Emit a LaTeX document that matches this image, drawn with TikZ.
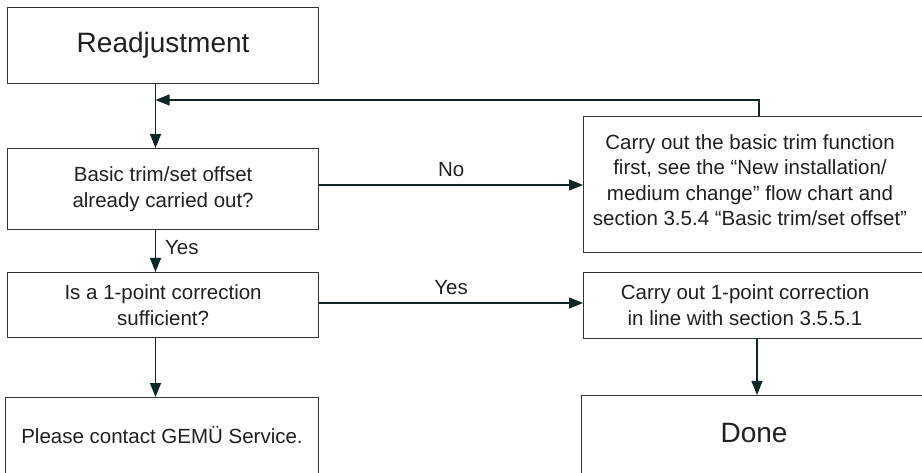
\documentclass[tikz,border=0pt]{standalone}
\usepackage{fontspec}
\setmainfont{Liberation Sans}
\usetikzlibrary{arrows.meta}
\definecolor{boxline}{RGB}{50,50,50}
\definecolor{arrline}{RGB}{16,38,38}
\definecolor{txt}{RGB}{35,31,32}
\tikzset{
  box/.style={draw=boxline, line width=1.2pt, rectangle, anchor=north west, inner sep=0pt, text=txt, align=center},
  small/.style={font=\fontsize{20.5}{25.5}\selectfont, text=txt, align=center},
  big/.style={font=\fontsize{28}{32}\selectfont, text=txt},
  arr/.style={draw=arrline, line width=1.2pt, -{Triangle[length=14pt,width=11pt]}},
  lbl/.style={font=\fontsize{20.5}{24}\selectfont, text=txt, inner sep=0pt}
}
\begin{document}
\begin{tikzpicture}[x=1pt,y=-1pt]
\useasboundingbox (0,0) rectangle (922,473);
\clip (0,0) rectangle (922,473);
% left column
\node[box, minimum width=311pt, minimum height=76pt, big] (A) at (7,7) {Readjustment};
\node[box, minimum width=311pt, minimum height=81pt, small] (B) at (7,148) {Basic trim/set offset\\already carried out?};
\node[box, minimum width=311pt, minimum height=65pt, small] (C) at (7,272) {Is a 1-point correction\\sufficient?};
\node[box, minimum width=313pt, minimum height=120pt] (D) at (5,397) {};
\node[small] (Dt) at (162,435) {Please contact GEMÜ Service.};
% right column
\node[box, minimum width=360pt, minimum height=136pt] (E) at (583,116) {};
\node[small] (Et) at (750,180) {Carry out the basic trim function\\first, see the “New installation/\\medium change” flow chart and\\section 3.5.4 “Basic trim/set offset”};
\node[box, minimum width=360pt, minimum height=66pt] (F) at (583,272) {};
\node[small] (Ft) at (745,305) {Carry out 1-point correction\\in line with section 3.5.5.1};
\node[box, minimum width=362pt, minimum height=120pt] (G) at (581,395) {};
\node[big] (Gt) at (754,433) {Done};
% helper coordinates
\coordinate (vx) at (155.5,0);
\coordinate (fx) at (759,0);
\coordinate (fy) at (0,100);
\coordinate (ny) at (0,185);
\coordinate (yy) at (0,303);
\coordinate (rx) at (757,0);
% connectors
\draw[arr] (A.south -| vx) -- (B.north -| vx);
\draw[arr] (E.north -| fx) -- (fx |- fy) -- (vx |- fy);
\draw[arr] (B.east |- ny) -- node[lbl, above=8pt] (no) {No} (E.west |- ny);
\draw[arr] (B.south -| vx) -- (C.north -| vx) node[lbl, pos=0.42, right=9pt] (y1) {Yes};
\draw[arr] (C.east |- yy) -- node[lbl, above=8pt] (y2) {Yes} (F.west |- yy);
\draw[arr] (C.south -| vx) -- (D.north -| vx);
\draw[arr] (F.south -| rx) -- (G.north -| rx);
\end{tikzpicture}
\end{document}
